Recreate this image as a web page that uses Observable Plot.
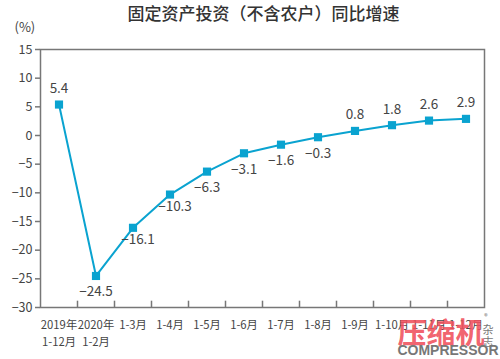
<!DOCTYPE html>
<html><head><meta charset="utf-8">
<script src="https://cdn.jsdelivr.net/npm/d3@7"></script>
<script src="https://cdn.jsdelivr.net/npm/@observablehq/plot@0.6"></script>
<style>
html,body{margin:0;padding:0;background:#fff;}
svg{display:block;}
</style></head>
<body><div id="chart"></div>
<script>
const title = "固定资产投资（不含农户）同比增速";
const unit = "(%)";
const categories = ["2019年\n1-12月","2020年\n1-2月","1-3月","1-4月","1-5月","1-6月","1-7月","1-8月","1-9月","1-10月","1-11月","1-12月"];
const values = [5.4, -24.5, -16.1, -10.3, -6.3, -3.1, -1.6, -0.3, 0.8, 1.8, 2.6, 2.9];
const yTicks = [15, 10, 5, 0, -5, -10, -15, -20, -25, -30];

const data = values.map((v, i) => ({i, v, label: String(v).replace("-", "−")}));
const above = data.filter(d => d.v > 0);
const right = data.filter(d => d.i === 2 || d.i === 3);
const below = data.filter(d => d.v < 0 && d.i !== 2 && d.i !== 3);
const bounds = d3.range(categories.length - 1).map(i => i + 0.5);

const font = "'Noto Sans CJK SC', 'Noto Sans', sans-serif";
const col = "#0aa3d0";
const txt = "#444";

const chart = Plot.plot({
  width: 500, height: 359,
  marginLeft: 40, marginRight: 16, marginTop: 49, marginBottom: 52,
  style: {fontFamily: font, background: "#fff", color: txt},
  x: {type: "linear", domain: [-0.5, categories.length - 0.5], axis: null},
  y: {domain: [-30, 15], axis: null},
  marks: [
    Plot.frame({stroke: "#777", strokeWidth: 1.5}),
    Plot.axisY({ticks: yTicks, tickSize: 5, tickPadding: 3, stroke: "#777", strokeWidth: 1.5, fontSize: 12.5, fill: txt, tickFormat: d => String(d).replace("-", "−"), label: null}),
    Plot.axisX({ticks: d3.range(categories.length), tickSize: 0, tickPadding: 9, fontSize: 11.3, fill: txt, lineHeight: 1.55, tickFormat: i => categories[i], label: null}),
    Plot.ruleX(bounds, {x: d => d, y1: -30, y2: -28.9, stroke: "#777", strokeWidth: 1.5}),
    Plot.line(data, {x: "i", y: "v", stroke: col, strokeWidth: 2}),
    Plot.dot(data, {x: "i", y: "v", symbol: "square", r: 4.6, fill: col, stroke: null}),
    Plot.text(above, {x: "i", y: "v", text: "label", dy: -16, fontSize: 13.5, fill: txt}),
    Plot.text(below, {x: "i", y: "v", text: "label", dy: 16, fontSize: 13.5, fill: txt}),
    Plot.text(right, {x: "i", y: "v", text: "label", dx: 5, dy: 12, fontSize: 13.5, fill: txt}),
    Plot.text([title], {frameAnchor: "top", lineAnchor: "middle", dx: 1, dy: -35, fontSize: 17, fontWeight: 500, fill: "#333", text: d => d}),
    Plot.text([unit], {frameAnchor: "top-left", lineAnchor: "middle", dx: -26, dy: -22, fontSize: 13, fill: txt, textAnchor: "start", text: d => d}),
    // watermark
    Plot.text(["压缩机"], {frameAnchor: "bottom-right", lineAnchor: "middle", dx: 0, dy: 27, fontSize: 29, fontWeight: 700, fill: "#f0505c", fillOpacity: 0.9, textAnchor: "end", text: d => d}),
    Plot.text(["杂"], {frameAnchor: "bottom-right", lineAnchor: "middle", dx: 9, dy: 23, fontSize: 11, fill: "#777", text: d => d}),
    Plot.text(["志"], {frameAnchor: "bottom-right", lineAnchor: "middle", dx: 9, dy: 35, fontSize: 11, fill: "#777", text: d => d}),
    Plot.text(["COMPRESSOR"], {frameAnchor: "bottom-right", lineAnchor: "middle", dx: 14, dy: 43, fontSize: 14, fontWeight: 700, fill: "#777", textAnchor: "end", fontFamily: "'Liberation Sans', sans-serif", text: d => d}),
    Plot.text(["®"], {frameAnchor: "bottom-right", lineAnchor: "middle", dx: 3, dy: 9, fontSize: 7, fill: "#666", text: d => d})
  ]
});
document.getElementById("chart").appendChild(chart);
</script>
</body></html>
